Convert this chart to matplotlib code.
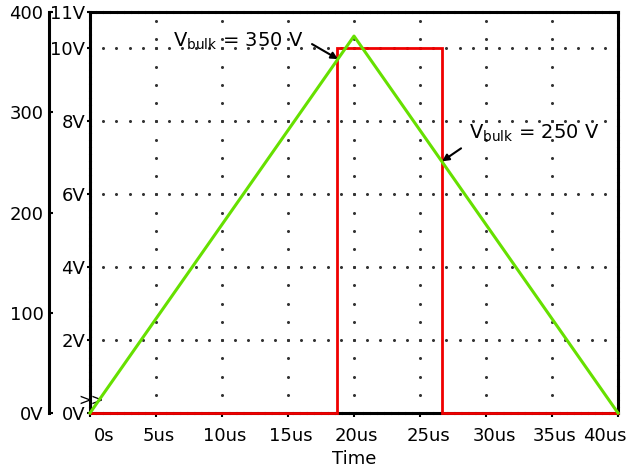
import numpy as np
import matplotlib
matplotlib.use("Agg")
import matplotlib.pyplot as plt
from matplotlib.transforms import ScaledTranslation

plt.rcParams['font.family'] = ['DejaVu Sans']

# ---- data ----
t_green = [0, 20, 40]            # us
v_green = [0, 376, 0]            # V (outer axis, Vbulk)
t_red = [0, 18.7, 18.7, 26.7, 26.7, 40]   # us
v_red = [0, 0, 10, 10, 0, 0]     # V (inner axis)

x_ticks = [0, 5, 10, 15, 20, 25, 30, 35, 40]
x_labels = ['0s', '5us', '10us', '15us', '20us', '25us', '30us', '35us', '40us']
inner_ticks = [0, 2, 4, 6, 8, 10, 11]
inner_labels = ['0V', '2V', '4V', '6V', '8V', '10V', '11V']
outer_ticks = [0, 100, 200, 300, 400]
outer_labels = ['0V', '100', '200', '300', '400']

ann_texts = ['V$_{\\mathregular{bulk}}$ = 350 V', 'V$_{\\mathregular{bulk}}$ = 250 V']

W, H = 629, 474
fig = plt.figure(figsize=(W / 100, H / 100), dpi=100)
L, R, T, B = 90, 618, 12, 413
ax = fig.add_axes([L / W, (H - B) / H, (R - L) / W, (B - T) / H])
ax.set_xlim(0, 40)
ax.set_ylim(0, 11)

FS = 13
# grid dots
dot_kw = dict(ls='none', marker='o', ms=2.2, mew=0, color='#333333', zorder=1)
for yv in [2, 4, 6, 8, 10]:
    xs = np.arange(0, 40.01, 1.0)
    ax.plot(xs, np.full_like(xs, yv), **dot_kw)
ys_v = np.concatenate([np.arange(0.5, 10.01, 0.5), [10.25, 10.75]])
for xv in [5, 10, 15, 20, 25, 30, 35]:
    ax.plot(np.full_like(ys_v, xv), ys_v, **dot_kw)

# red trace on inner axis
ax.plot(t_red, v_red, color='#f00000', lw=2.0, zorder=3, clip_on=False,
        solid_joinstyle='miter')

# spines
for s in ['left', 'right', 'top', 'bottom']:
    ax.spines[s].set_linestyle((0, (1.6, 0.7)))
    ax.spines[s].set_linewidth(2.2)
    ax.spines[s].set_color('black')

ax.set_xticks(x_ticks)
ax.set_xticklabels(x_labels)
ax.set_yticks(inner_ticks)
ax.set_yticklabels(inner_labels)
ax.tick_params(axis='x', direction='out', length=3, width=1.5, pad=7, labelsize=FS)
ax.tick_params(axis='y', direction='out', length=2, width=1.5, pad=1.5, labelsize=FS)
ax.set_xlabel('Time', fontsize=FS, labelpad=4)

# per-label horizontal offsets (pixels) as in the reference
x_off = [14, 3, 3, 3, 2, 9, 8, 3, -13]
for lbl, dx in zip(ax.get_xticklabels(), x_off):
    lbl.set_transform(lbl.get_transform() + ScaledTranslation(dx / 100, 0, fig.dpi_scale_trans))

# outer axis
ax2 = ax.twinx()
ax2.set_ylim(0, 400)
ax2.set_xlim(0, 40)
ax2.spines['left'].set_position(('outward', 41 * 0.72))
ax2.spines['left'].set_linewidth(2.2)
for s in ['right', 'top', 'bottom']:
    ax2.spines[s].set_visible(False)
ax2.yaxis.tick_left()
ax2.yaxis.set_label_position('left')
ax2.set_yticks(outer_ticks)
ax2.set_yticklabels(outer_labels)
ax2.tick_params(axis='y', direction='in', length=3, width=1.5, pad=4, labelsize=FS)

ax2.plot(t_green, v_green, color='#66e000', lw=2.2, zorder=4, clip_on=False)

# annotations
ax2.annotate('', xy=(18.79, 353), xytext=(16.82, 368),
             arrowprops=dict(arrowstyle='-|>', color='black', lw=1.5,
                             mutation_scale=10, shrinkA=0, shrinkB=0))
ax2.annotate('', xy=(26.67, 251), xytext=(28.11, 264),
             arrowprops=dict(arrowstyle='-|>', color='black', lw=1.5,
                             mutation_scale=10, shrinkA=0, shrinkB=0))
ax2.text(6.29, 365, ann_texts[0], fontsize=14, va='baseline', ha='left')
ax2.text(28.71, 274, ann_texts[1], fontsize=14, va='baseline', ha='left')

ax2.text(0.05, 13, '>>', fontsize=11, ha='center', va='center')

fig.savefig('out.png', dpi=100)
